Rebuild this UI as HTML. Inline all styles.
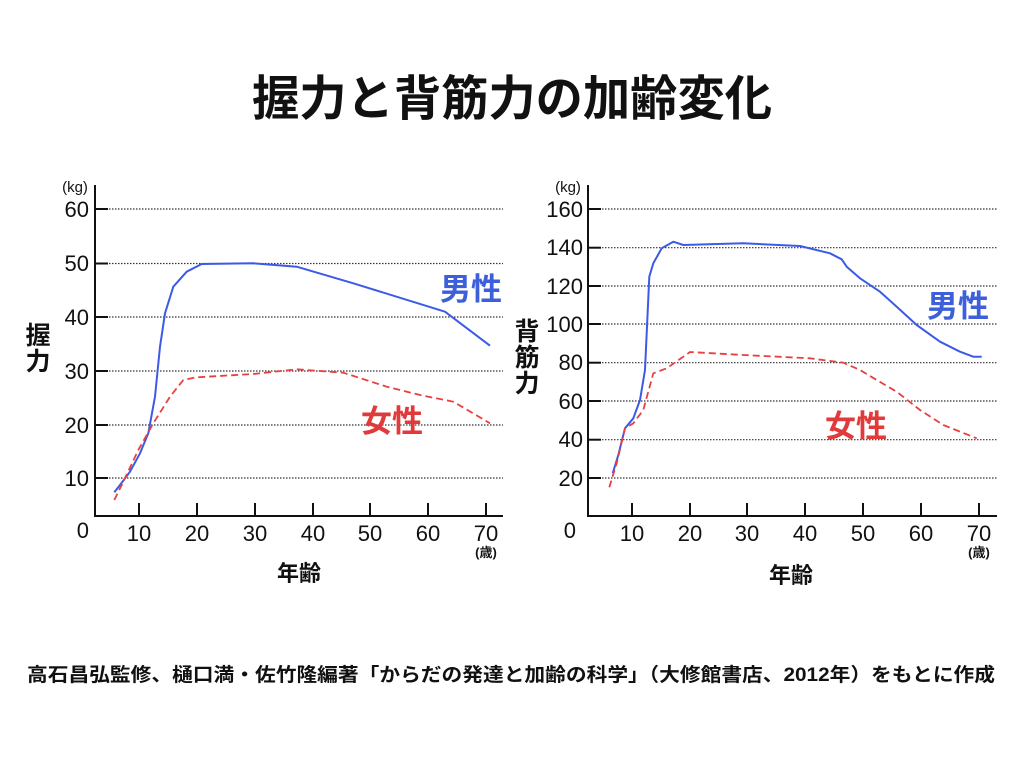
<!DOCTYPE html>
<html><head><meta charset="utf-8"><style>
html,body{margin:0;padding:0;background:#fff;}
svg{display:block;}
text{font-family:"Liberation Sans","Noto Sans CJK JP",sans-serif;}
</style></head><body>
<svg width="1024" height="768" viewBox="0 0 1024 768" xmlns="http://www.w3.org/2000/svg">
<rect width="1024" height="768" fill="#fff"/>
<text x="512" y="115" text-anchor="middle" font-size="48" font-weight="bold" textLength="520" lengthAdjust="spacingAndGlyphs" fill="#111">握力と背筋力の加齢変化</text>

<!-- LEFT CHART -->
<g stroke="#333" stroke-width="1.2" stroke-dasharray="1.5 1.5" fill="none">
<line x1="103" y1="209" x2="503" y2="209"/><line x1="103" y1="263.5" x2="503" y2="263.5"/>
<line x1="103" y1="317" x2="503" y2="317"/><line x1="103" y1="371" x2="503" y2="371"/>
<line x1="103" y1="425" x2="503" y2="425"/><line x1="103" y1="478" x2="503" y2="478"/>
</g>
<g stroke="#111" stroke-width="2" fill="none">
<line x1="95" y1="185" x2="95" y2="516"/><line x1="94" y1="516" x2="503" y2="516"/>
<line x1="95" y1="209" x2="108" y2="209"/><line x1="95" y1="263.5" x2="108" y2="263.5"/><line x1="95" y1="317" x2="108" y2="317"/><line x1="95" y1="371" x2="108" y2="371"/><line x1="95" y1="425" x2="108" y2="425"/><line x1="95" y1="478" x2="108" y2="478"/>
<line x1="139" y1="503" x2="139" y2="516"/><line x1="197" y1="503" x2="197" y2="516"/><line x1="255" y1="503" x2="255" y2="516"/><line x1="313" y1="503" x2="313" y2="516"/><line x1="370" y1="503" x2="370" y2="516"/><line x1="428" y1="503" x2="428" y2="516"/><line x1="486" y1="503" x2="486" y2="516"/>
</g>
<g font-size="22" fill="#111" text-anchor="end">
<text x="89" y="217">60</text><text x="89" y="271">50</text><text x="89" y="325">40</text><text x="89" y="379">30</text><text x="89" y="433">20</text><text x="89" y="486">10</text><text x="89" y="538">0</text>
</g>
<g font-size="22" fill="#111" text-anchor="middle">
<text x="139" y="541">10</text><text x="197" y="541">20</text><text x="255" y="541">30</text><text x="313" y="541">40</text><text x="370" y="541">50</text><text x="428" y="541">60</text><text x="486" y="541">70</text>
</g>
<text x="75" y="192" font-size="15" text-anchor="middle" fill="#111">(kg)</text>
<text x="486" y="557" font-size="13" text-anchor="middle" fill="#111" font-weight="bold">(歳)</text>
<text x="299" y="581" font-size="22" text-anchor="middle" fill="#111" font-weight="bold">年齢</text>
<text x="38" y="344" font-size="25" text-anchor="middle" fill="#111" font-weight="bold">握</text>
<text x="38" y="370" font-size="25" text-anchor="middle" fill="#111" font-weight="bold">力</text>
<text x="471" y="300" font-size="31" text-anchor="middle" fill="#3d5fd9" font-weight="bold">男性</text>
<text x="392" y="432" font-size="31" text-anchor="middle" fill="#e03a3a" font-weight="bold">女性</text>
<polyline fill="none" stroke="#3b5be6" stroke-width="2" stroke-linejoin="round" points="114.3,492.3 120,485 130,471.7 140,453.3 148.3,433.3 155,396.7 160,346.7 165,313.3 173.3,286.7 186.7,271.7 201.7,264 253.3,263.3 296.7,266.7 353.3,283.3 445,311.7 490,345.7"/>
<polyline fill="none" stroke="#e84040" stroke-width="1.8" stroke-dasharray="7 4" stroke-linejoin="round" points="114.3,500 123.3,481.7 138.3,450 153.3,423.3 170,396.7 183.3,380 196.7,377.3 253.3,374 296.7,369.3 343.3,372.7 386.7,386.7 420,395 453.3,401.7 490,423.3"/>

<!-- RIGHT CHART -->
<g stroke="#333" stroke-width="1.2" stroke-dasharray="1.5 1.5" fill="none">
<line x1="596" y1="209" x2="997" y2="209"/><line x1="596" y1="247.7" x2="997" y2="247.7"/><line x1="596" y1="286" x2="997" y2="286"/><line x1="596" y1="324" x2="997" y2="324"/><line x1="596" y1="362.7" x2="997" y2="362.7"/><line x1="596" y1="401" x2="997" y2="401"/><line x1="596" y1="439.7" x2="997" y2="439.7"/><line x1="596" y1="478" x2="997" y2="478"/>
</g>
<g stroke="#111" stroke-width="2" fill="none">
<line x1="588" y1="185" x2="588" y2="516"/><line x1="587" y1="516" x2="997" y2="516"/>
<line x1="588" y1="209" x2="601" y2="209"/><line x1="588" y1="247.7" x2="601" y2="247.7"/><line x1="588" y1="286" x2="601" y2="286"/><line x1="588" y1="324" x2="601" y2="324"/><line x1="588" y1="362.7" x2="601" y2="362.7"/><line x1="588" y1="401" x2="601" y2="401"/><line x1="588" y1="439.7" x2="601" y2="439.7"/><line x1="588" y1="478" x2="601" y2="478"/>
<line x1="632" y1="503" x2="632" y2="516"/><line x1="690" y1="503" x2="690" y2="516"/><line x1="747" y1="503" x2="747" y2="516"/><line x1="805" y1="503" x2="805" y2="516"/><line x1="863" y1="503" x2="863" y2="516"/><line x1="921" y1="503" x2="921" y2="516"/><line x1="979" y1="503" x2="979" y2="516"/>
</g>
<g font-size="22" fill="#111" text-anchor="end">
<text x="583" y="217">160</text><text x="583" y="255">140</text><text x="583" y="294">120</text><text x="583" y="332">100</text><text x="583" y="370">80</text><text x="583" y="409">60</text><text x="583" y="447">40</text><text x="583" y="486">20</text><text x="576" y="538">0</text>
</g>
<g font-size="22" fill="#111" text-anchor="middle">
<text x="632" y="541">10</text><text x="690" y="541">20</text><text x="747" y="541">30</text><text x="805" y="541">40</text><text x="863" y="541">50</text><text x="921" y="541">60</text><text x="979" y="541">70</text>
</g>
<text x="568" y="192" font-size="15" text-anchor="middle" fill="#111">(kg)</text>
<text x="979" y="557" font-size="13" text-anchor="middle" fill="#111" font-weight="bold">(歳)</text>
<text x="791" y="583" font-size="22" text-anchor="middle" fill="#111" font-weight="bold">年齢</text>
<text x="527" y="340" font-size="25" text-anchor="middle" fill="#111" font-weight="bold">背</text>
<text x="527" y="366" font-size="25" text-anchor="middle" fill="#111" font-weight="bold">筋</text>
<text x="527" y="392" font-size="25" text-anchor="middle" fill="#111" font-weight="bold">力</text>
<text x="958" y="317" font-size="31" text-anchor="middle" fill="#3d5fd9" font-weight="bold">男性</text>
<text x="856" y="437" font-size="31" text-anchor="middle" fill="#e03a3a" font-weight="bold">女性</text>
<polyline fill="none" stroke="#3b5be6" stroke-width="2" stroke-linejoin="round" points="612.7,473.3 618.3,455 625,428.3 633.3,418.3 640,400 645,370 647.3,320 649.3,276.7 653.3,263.3 661.7,248.3 673.3,241.7 683.3,245 743.3,243.3 800,246 830,253.3 841.7,259.3 846.7,266.7 860,278.3 880,291.7 896.7,306.7 916.7,325 940,341.7 960,351.7 973.3,356.7 981.7,356.7"/>
<polyline fill="none" stroke="#e84040" stroke-width="1.8" stroke-dasharray="7 4" stroke-linejoin="round" points="609.3,487.3 616.7,463.3 625,428.3 633.3,423.3 643.3,410 653.3,373.3 666.7,368.3 690,352 743.3,355 810,358.3 843.3,362.7 860,370 876.7,380 896.7,391.7 920,410 943.3,425 976.7,438.3"/>

<text x="511" y="681" font-size="19" text-anchor="middle" fill="#111" font-weight="bold" textLength="968" lengthAdjust="spacingAndGlyphs">高石昌弘監修、樋口満・佐竹隆編著「からだの発達と加齢の科学」（大修館書店、2012年）をもとに作成</text>
</svg>
</body></html>
